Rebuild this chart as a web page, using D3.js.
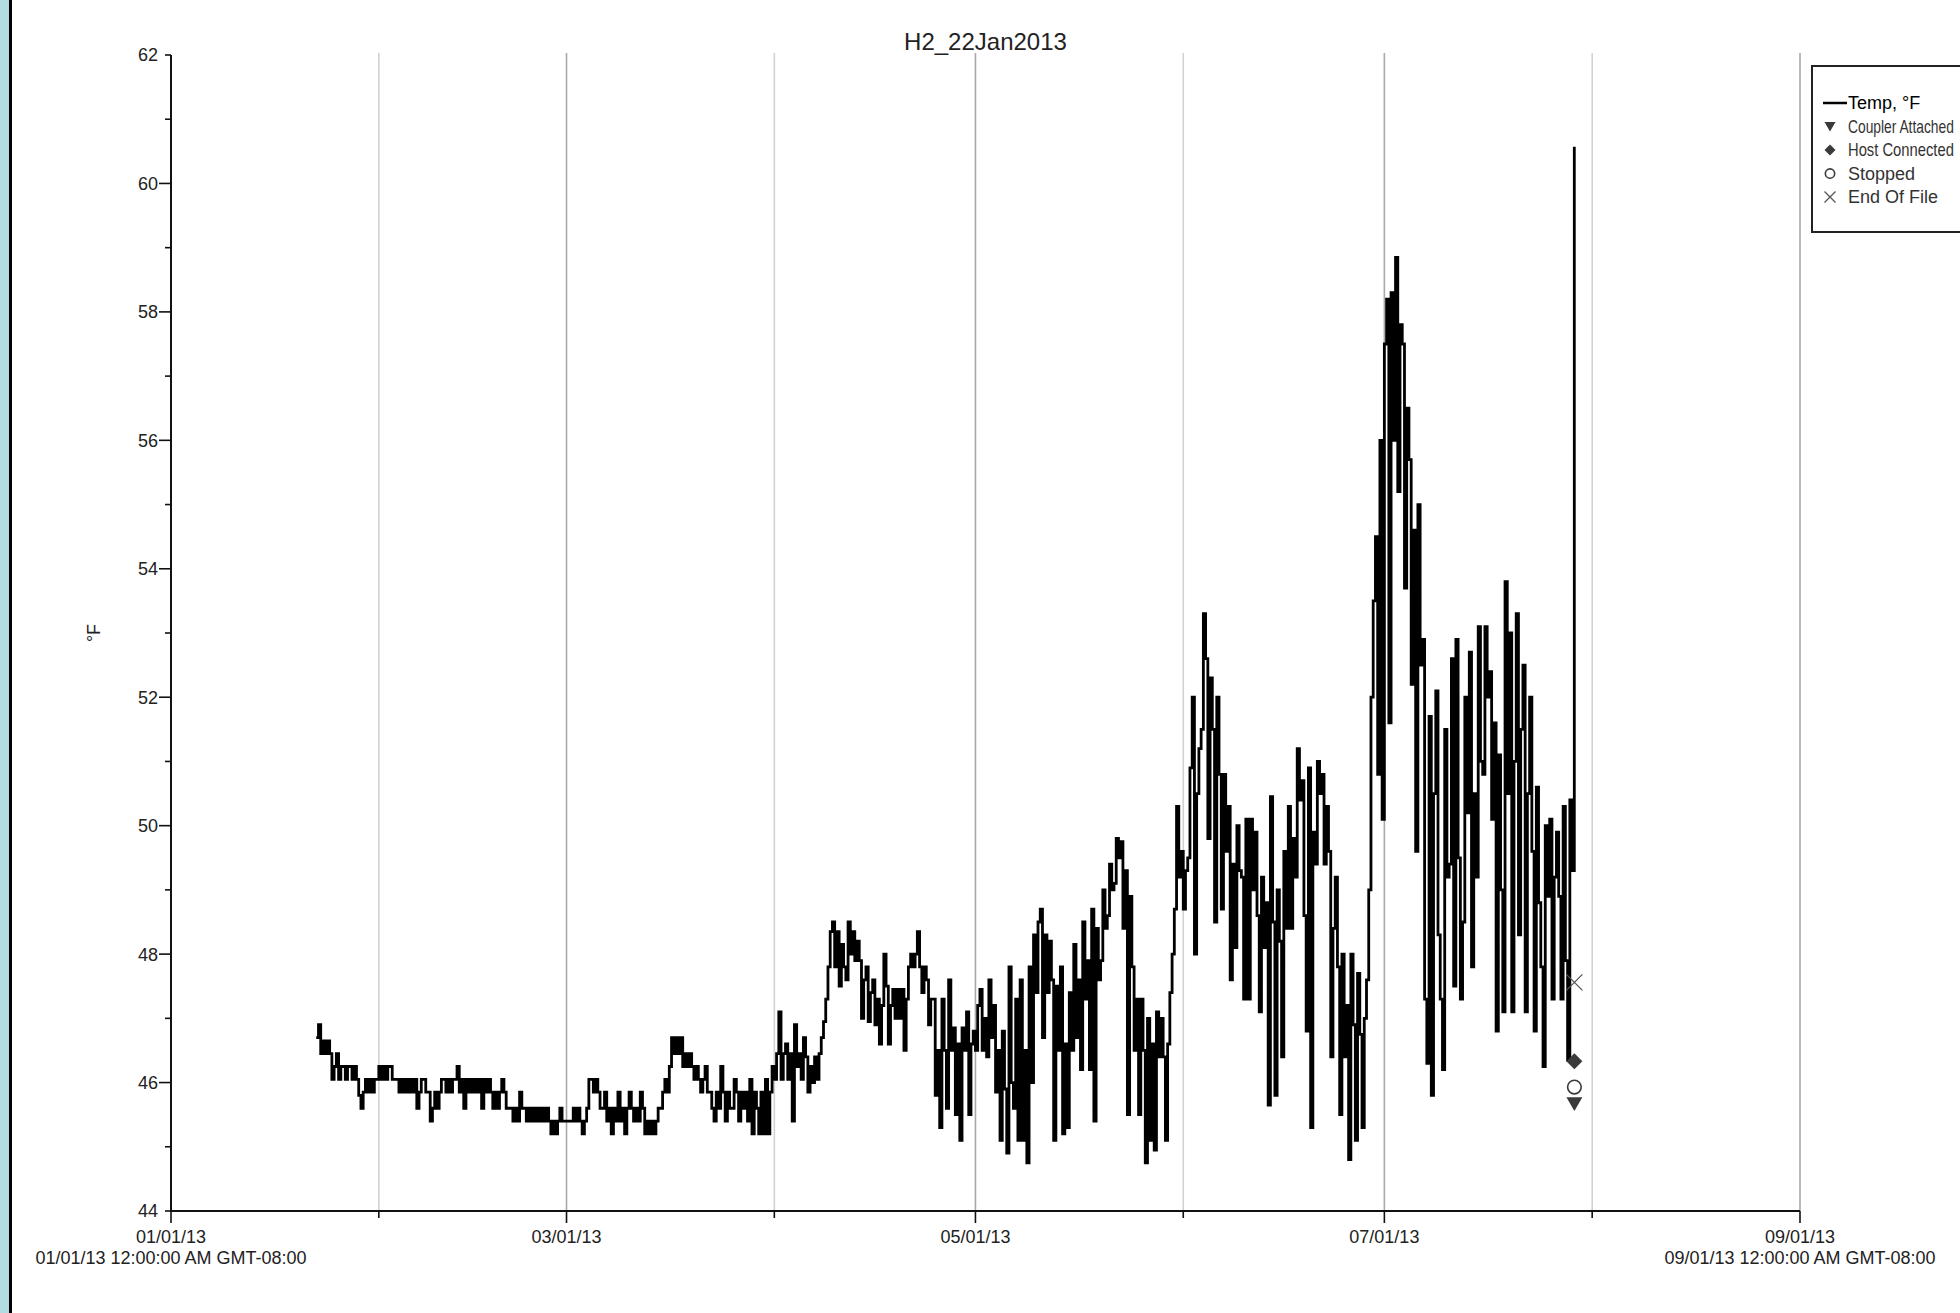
<!DOCTYPE html>
<html><head><meta charset="utf-8">
<script src="https://cdn.jsdelivr.net/npm/d3@7"></script>
<style>
html,body{margin:0;padding:0;background:#fff;}
svg{display:block;font-family:"Liberation Sans",Arial,sans-serif;}
</style></head><body>
<svg id="chart" width="1960" height="1313"></svg>
<script>
const title = "H2_22Jan2013";
const yLabel = "°F";
const seriesName = "Temp, °F";
const firstReading = Date.UTC(2013, 0, 22, 16);
const readingIntervalHours = 8;
// three readings per day (16:00, 00:00, 08:00), Jan 22 .. Jul 29
const temps = [
  46.7,46.9,46.45, 46.65,46.45,46.65, 46.45,46.05,46.25, 46.45,46.05,46.25, 46.25,46.05,46.25,
  46.25,46.05,46.25, 46.05,45.8,45.6, 45.85,46.05,45.85, 46.05,45.85,46.05, 46.05,46.25,46.05,
  46.25,46.05,46.25, 46.25,46.05,46.05, 46.05,45.85,46.05, 45.85,46.05,45.85, 46.05,45.85,46.05,
  45.6,45.85,46.05, 46.05,45.85,45.85, 45.4,45.6,45.85, 45.6,45.85,46.05, 46.05,45.85,46.05,
  45.85,46.05,46.05, 46.25,45.85,46.05, 45.6,46.05,45.85, 46.05,45.85,46.05, 45.85,46.05,45.6,
  46.05,45.85,46.05, 45.85,45.6,45.85, 45.6,45.85,46.05, 45.85,45.6,45.6, 45.6,45.4,45.6,
  45.4,45.85,45.6, 45.6,45.4,45.6, 45.4,45.6,45.4, 45.6,45.4,45.6, 45.4,45.6,45.4,
  45.2,45.4,45.2, 45.4,45.6,45.4, 45.4,45.4,45.4, 45.4,45.6,45.4, 45.6,45.4,45.2,
  45.4,45.6,46.05, 46.05,45.85,46.05, 45.85,45.6,45.6, 45.85,45.4,45.6, 45.2,45.6,45.4,
  45.85,45.4,45.6, 45.2,45.6,45.85, 45.6,45.4,45.6, 45.4,45.85,45.6, 45.2,45.4,45.2,
  45.4,45.2,45.4, 45.6,45.6,45.85, 46.05,45.85,46.25, 46.7,46.45,46.7, 46.45,46.7,46.25,
  46.45,46.25,46.45, 46.25,46.05,46.25, 46.05,45.85,46.05, 46.25,45.85,45.85, 45.6,45.4,45.85,
  45.6,46.25,45.85, 45.4,45.85,45.6, 45.6,46.05,45.85, 45.4,45.85,45.6, 45.85,45.4,46.05,
  45.2,45.85,45.6, 45.2,45.85,45.2, 46.05,45.2,45.85, 46.25,46.05,46.45, 47.1,46.05,46.45,
  46.6,46.05,46.45, 45.4,46.9,46.25, 46.45,46.05,46.7, 46.4,45.85,46.25, 46.0,46.4,46.05,
  46.45,46.7,46.95, 47.3,47.8,48.35, 48.5,47.8,48.35, 47.5,48.15,47.8, 47.6,48.5,48.0,
  48.35,47.9,48.2, 47.9,47.0,47.6, 47.8,46.95,47.4, 47.6,46.9,47.3, 46.6,47.2,48.0,
  47.5,46.6,47.2, 47.45,47.0,47.45, 47.0,47.45,46.5, 47.3,47.8,48.0, 47.8,48.0,48.35,
  47.8,47.4,47.8, 47.6,46.9,47.3, 47.3,45.8,46.5, 45.3,47.3,46.5, 45.6,47.6,46.5,
  46.85,45.5,46.6, 45.1,46.85,46.5, 47.1,45.5,46.6, 46.8,46.5,47.2, 47.45,46.5,47.0,
  46.4,47.6,46.7, 47.2,45.85,46.5, 45.1,46.8,45.9, 44.9,47.8,46.0, 45.6,47.3,45.1,
  47.6,45.1,46.5, 44.75,47.8,46.0, 48.3,47.4,48.5, 48.7,46.7,48.3, 47.4,48.2,47.6,
  45.1,47.5,46.5, 47.8,45.2,46.6, 45.3,47.4,46.5, 48.15,46.7,47.6, 46.2,48.5,47.3,
  47.9,46.2,48.7, 45.4,48.4,47.6, 47.9,49.0,48.4, 48.6,49.4,49.0, 49.1,49.8,49.5,
  49.75,48.4,49.3, 45.5,48.9,47.8, 46.5,47.3,45.5, 47.3,46.5,44.75, 47.0,45.1,46.6,
  44.95,47.1,46.4, 47.0,46.4,45.1, 46.6,47.4,48.0, 48.7,50.3,49.2, 49.6,48.7,49.3,
  49.5,50.9,52.0, 48.0,50.5,51.2, 51.5,53.3,52.6, 49.8,52.3,51.5, 48.5,52.0,50.8,
  48.7,50.8,49.6, 50.3,47.6,49.4, 48.1,50.0,49.3, 49.2,47.3,50.1, 47.3,50.1,49.0,
  49.9,48.6,47.1, 49.2,48.1,48.8, 45.65,50.45,48.5, 45.8,49.0,48.2, 46.4,49.6,48.4,
  50.3,48.4,49.8, 49.2,51.2,50.4, 50.7,48.6,46.8, 50.9,45.3,49.9, 49.4,51.0,50.5,
  50.8,49.4,50.3, 49.6,46.4,48.4, 49.2,47.8,45.5, 48.0,46.4,47.2, 44.8,48.0,46.9,
  45.1,47.7,46.75, 45.3,47.0,47.6, 49.0,52.0,53.5, 54.5,50.8,56.0, 50.1,57.5,58.2,
  51.6,58.3,56.0, 58.85,55.2,57.8, 57.5,53.7,56.5, 55.7,52.2,54.6, 49.6,55.0,52.5,
  52.9,47.3,46.3, 51.7,45.8,50.5, 52.1,48.3,47.3, 46.2,51.5,49.2, 49.4,52.6,47.5,
  52.9,49.5,47.3, 48.5,52.0,50.2, 52.7,47.8,50.5, 49.2,53.1,51.0, 50.8,53.1,52.0,
  52.4,50.1,51.6, 46.8,51.1,49.0, 47.1,53.8,50.5, 53.0,47.1,51.0, 53.3,48.3,51.5,
  52.5,47.1,50.5, 52.0,49.6,46.8, 50.6,48.8,47.8, 46.25,50.0,48.9, 50.1,47.3,49.2,
  49.9,48.9,47.3, 50.3,47.9,46.35, 50.4,49.3,60.57
];
const eventNames = ["Coupler Attached", "Host Connected", "Stopped", "End Of File"];
const eventTemps = [45.67, 46.33, 45.93, 47.56];
const eventTime = Date.UTC(2013, 6, 29, 8, 20);
const yTicks = [44,45,46,47,48,49,50,51,52,53,54,55,56,57,58,59,60,61,62];
const yTickLabels = ["44","","46","","48","","50","","52","","54","","56","","58","","60","","62"];
const xTickDates = [Date.UTC(2013,0,1),Date.UTC(2013,1,1),Date.UTC(2013,2,1),Date.UTC(2013,3,1),Date.UTC(2013,4,1),Date.UTC(2013,5,1),Date.UTC(2013,6,1),Date.UTC(2013,7,1),Date.UTC(2013,8,1)];
const xTickLabels = ["01/01/13","","03/01/13","","05/01/13","","07/01/13","","09/01/13"];
const xSubLabels = ["01/01/13 12:00:00 AM GMT-08:00","","","","","","","","09/01/13 12:00:00 AM GMT-08:00"];
const legendLabels = [seriesName, "Coupler Attached", "Host Connected", "Stopped", "End Of File"];

const svg = d3.select("#chart");
const L = 171, R = 1800, T = 55, B = 1211;
const x = d3.scaleUtc().domain([xTickDates[0], xTickDates[xTickDates.length-1]]).range([L, R]);
const y = d3.scaleLinear().domain([44, 62]).range([B, T]);

// left frame strip
svg.append("rect").attr("x",0).attr("y",0).attr("width",9).attr("height",1313).attr("fill","#b3dce2");
svg.append("rect").attr("x",9).attr("y",0).attr("width",3).attr("height",1313).attr("fill","#000");

// gridlines
svg.append("g").selectAll("line").data(xTickDates.slice(1)).join("line")
  .attr("x1",d=>x(d)).attr("x2",d=>x(d)).attr("y1",T-2).attr("y2",B)
  .attr("stroke",(d,i)=>xTickLabels[i+1] ? "#a9a9a9" : "#d2d2d2").attr("stroke-width",1.6);

// data line
const pts = temps.map((v,i)=>({t: firstReading + i*readingIntervalHours*3600000, v}));
const line = d3.line().x(d=>x(d.t)).y(d=>y(d.v)).curve(d3.curveStepAfter);
svg.append("path").datum(pts).attr("d",line).attr("fill","none").attr("stroke","#000")
  .attr("stroke-width",2.8).attr("stroke-linejoin","miter");

// axes
svg.append("line").attr("x1",L).attr("x2",L).attr("y1",T).attr("y2",B+1).attr("stroke","#111").attr("stroke-width",2);
svg.append("line").attr("x1",L-1).attr("x2",R).attr("y1",B).attr("y2",B).attr("stroke","#111").attr("stroke-width",2);

const yg = svg.append("g");
yg.selectAll("line").data(yTicks).join("line")
  .attr("x1",(d,i)=> (yTickLabels[i] && d!==44 && d!==62) ? L-12 : L-6).attr("x2",L)
  .attr("y1",d=>y(d)).attr("y2",d=>y(d)).attr("stroke","#111").attr("stroke-width",1.6);
yg.selectAll("text").data(yTicks).join("text")
  .attr("x",158).attr("y",d=>y(d)).attr("dy","0.36em").attr("text-anchor","end")
  .attr("font-size",18).attr("fill","#222").text((d,i)=>yTickLabels[i]);

const xg = svg.append("g");
xg.selectAll("line").data(xTickDates).join("line")
  .attr("x1",d=>x(d)).attr("x2",d=>x(d)).attr("y1",B).attr("y2",(d,i)=> xTickLabels[i] ? B+12 : B+7)
  .attr("stroke","#111").attr("stroke-width",1.6);
xg.selectAll("text.l1").data(xTickDates).join("text").attr("class","l1")
  .attr("x",d=>x(d)).attr("y",1243).attr("text-anchor","middle")
  .attr("font-size",18).attr("fill","#222").text((d,i)=>xTickLabels[i]);
xg.selectAll("text.l2").data(xTickDates).join("text").attr("class","l2")
  .attr("x",d=>x(d)).attr("y",1264).attr("text-anchor","middle")
  .attr("font-size",18).attr("fill","#222").text((d,i)=>xSubLabels[i]);

// title & y label
svg.append("text").attr("x",(L+R)/2).attr("y",50).attr("text-anchor","middle")
  .attr("font-size",24).attr("fill","#222").text(title);
svg.append("text").attr("transform",`translate(100,${(T+B)/2}) rotate(-90)`).attr("text-anchor","middle")
  .attr("font-size",18).attr("fill","#222").text(yLabel);

// event markers
const mColor = "#3a3a3a";
function drawMarker(g, kind, cx, cy, s) {
  if (kind === 0) {
    g.append("path").attr("d",`M${cx-s},${cy-s*0.8}L${cx+s},${cy-s*0.8}L${cx},${cy+s*0.9}Z`).attr("fill",mColor);
  } else if (kind === 1) {
    g.append("path").attr("d",`M${cx},${cy-s}L${cx+s},${cy}L${cx},${cy+s}L${cx-s},${cy}Z`).attr("fill",mColor);
  } else if (kind === 2) {
    g.append("circle").attr("cx",cx).attr("cy",cy).attr("r",s*0.85).attr("fill","#fff").attr("stroke",mColor).attr("stroke-width",1.6);
  } else {
    g.append("path").attr("d",`M${cx-s},${cy-s}L${cx+s},${cy+s}M${cx-s},${cy+s}L${cx+s},${cy-s}`)
      .attr("stroke","#555").attr("stroke-width",1.3).attr("fill","none");
  }
}
const mg = svg.append("g");
eventTemps.forEach((v,i)=> drawMarker(mg, i, x(eventTime), y(v), 8));

// legend
const lg = svg.append("g");
lg.append("rect").attr("x",1812).attr("y",66).attr("width",200).attr("height",166)
  .attr("fill","#fff").attr("stroke","#222").attr("stroke-width",2);
const rowY = d3.scaleLinear().domain([0,4]).range([103,197]);
lg.append("line").attr("x1",1823).attr("x2",1847).attr("y1",rowY(0)).attr("y2",rowY(0)).attr("stroke","#000").attr("stroke-width",2.5);
eventNames.forEach((n,i)=> drawMarker(lg, i, 1830, rowY(i+1), 5.5));
const maxW = 1954 - 1848;
lg.selectAll("text").data(legendLabels).join("text")
  .attr("x",1848).attr("y",(d,i)=>rowY(i)).attr("dy","0.36em")
  .attr("font-size",18).attr("fill",(d,i)=> i===0 ? "#000" : "#333").text(d=>d)
  .each(function(d,i){
    const w = this.getComputedTextLength();
    if (w > maxW) {
      const k = maxW / w;
      const by = rowY(i);
      // smaller font so the whole label fits, stretched back vertically to the row height
      d3.select(this).attr("font-size", 18*k)
        .attr("transform", `translate(0,${by}) scale(1,${1/k}) translate(0,${-by})`);
    }
  });
</script>
</body></html>
